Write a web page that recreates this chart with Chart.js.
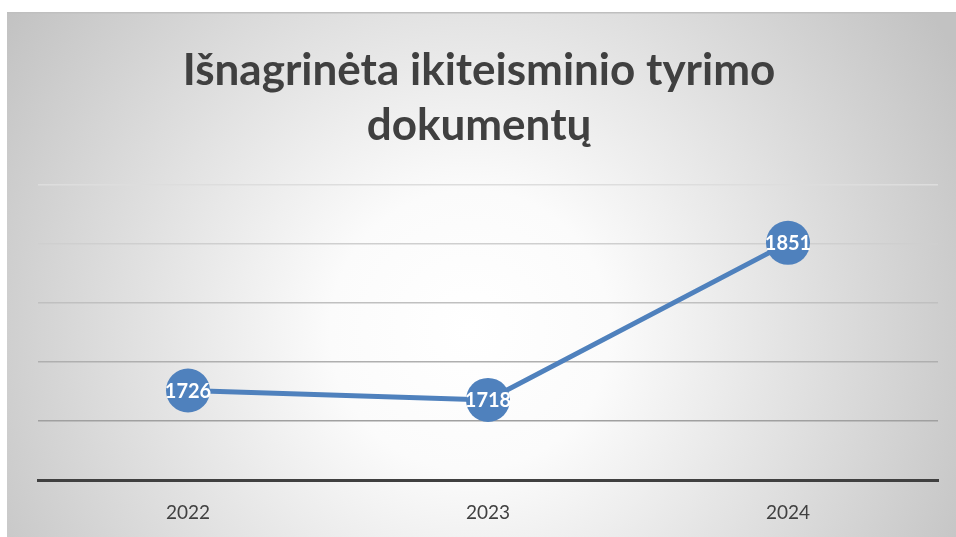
<!DOCTYPE html>
<html>
<head>
<meta charset="utf-8">
<script src="https://cdn.jsdelivr.net/npm/chart.js@4"></script>
<style>
  html, body { margin: 0; padding: 0; background: #fff; }
  #wrap { width: 956px; height: 537px; position: relative; }
</style>
</head>
<body>
<div id="wrap"><canvas id="chart"></canvas></div>
<script>
const years = ['2022', '2023', '2024'];
const documents = [1726, 1718, 1851];
const titleLines = ['Išnagrinėta ikiteisminio tyrimo', 'dokumentų'];
const gridColors = { 1700: '#a0a0a0', 1750: '#afafaf', 1800: '#c0c0c0', 1850: '#cfcfcf', 1900: '#dddddd' };

// fonas su radialiniu gradientu
const backdrop = {
    id: 'backdrop',
    beforeDraw(chart) {
        const c = chart.ctx;
        c.save();
        c.fillStyle = '#ffffff';
        c.fillRect(0, 0, chart.width, chart.height);
        const g = c.createRadialGradient(470, 330, 0, 470, 330, 560);
        g.addColorStop(0, '#ffffff');
        g.addColorStop(0.25, '#fbfbfb');
        g.addColorStop(1, '#c2c2c2');
        c.fillStyle = g;
        c.fillRect(7, 13, chart.width - 7, chart.height - 13);
        c.fillStyle = '#bfbfbf';
        c.fillRect(7, 12, chart.width - 7, 1.5);
        c.restore();
    }
};

// reikšmės taškų viduryje
const pointLabels = {
    id: 'pointLabels',
    afterDatasetsDraw(chart) {
        const c = chart.ctx;
        const meta = chart.getDatasetMeta(0);
        c.save();
        c.font = 'bold 20px Lato';
        c.fillStyle = '#ffffff';
        c.textAlign = 'center';
        c.textBaseline = 'middle';
        meta.data.forEach((pt, i) => {
            c.fillText(String(chart.data.datasets[0].data[i]), pt.x, pt.y + 1);
        });
        c.restore();
    }
};

const ctx = document.getElementById('chart').getContext('2d');
new Chart(ctx, {
    type: 'line',
    data: {
        labels: years,
        datasets: [{
            label: 'Dokumentai',
            data: documents,
            borderColor: '#4f81bd',
            backgroundColor: '#4f81bd',
            borderWidth: 5,
            pointRadius: 22,
            pointHoverRadius: 22,
            pointBorderWidth: 0,
            tension: 0
        }]
    },
    options: {
        responsive: true,
        maintainAspectRatio: false,
        animation: false,
        layout: { autoPadding: false, padding: { left: 20, right: 18, top: 0, bottom: -8 } },
        plugins: {
            legend: { display: false },
            tooltip: { enabled: false },
            title: {
                display: true,
                text: titleLines,
                color: '#404040',
                font: { family: 'Lato', size: 44, weight: 'bold', lineHeight: 1.25 },
                padding: { top: 43, bottom: 32 }
            }
        },
        scales: {
            x: {
                offset: true,
                grid: { display: false, drawTicks: false },
                border: { display: true, color: '#404040', width: 3 },
                ticks: { color: '#404040', font: { family: 'Lato', size: 19 }, padding: 21 }
            },
            y: {
                min: 1650,
                max: 1900,
                afterFit: (scale) => { scale.width = 18; },
                ticks: { display: false, stepSize: 50 },
                border: { display: false },
                grid: {
                    drawTicks: false,
                    lineWidth: 1.5,
                    color: (c) => gridColors[c.tick.value] || '#a0a0a0'
                }
            }
        }
    },
    plugins: [backdrop, pointLabels]
});
</script>
</body>
</html>
